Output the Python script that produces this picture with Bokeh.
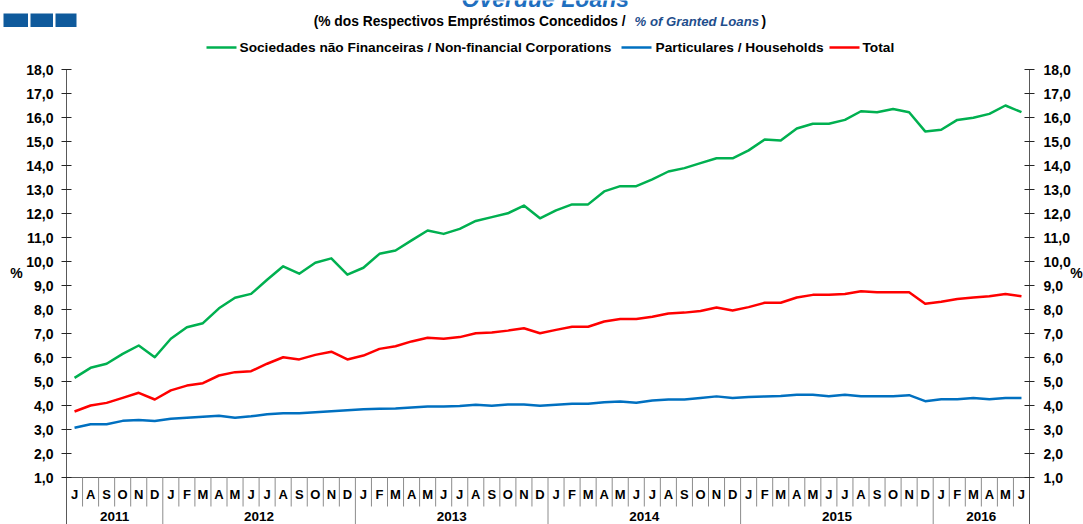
from bokeh.plotting import figure
from bokeh.models import Range1d, LinearAxis, FixedTicker, CustomJSTickFormatter
from bokeh.core.properties import value
from bokeh.embed import file_html
from bokeh.resources import INLINE

# ---------------- data ----------------
months = ["J", "A", "S", "O", "N", "D"] + \
         ["J", "F", "M", "A", "M", "J", "J", "A", "S", "O", "N", "D"] * 4 + \
         ["J", "F", "M", "A", "M", "J"]
years = ["2011", "2012", "2013", "2014", "2015", "2016"]
year_months = [6, 12, 12, 12, 12, 6]

corporations = [5.15, 5.57, 5.74, 6.15, 6.50, 6.01,
                6.78, 7.26, 7.43, 8.05, 8.49, 8.65, 9.24, 9.80, 9.49, 9.95, 10.13, 9.45,
                9.74, 10.32, 10.46, 10.88, 11.29, 11.15, 11.36, 11.69, 11.85, 12.01, 12.33, 11.80,
                12.13, 12.38, 12.38, 12.92, 13.14, 13.14, 13.42, 13.75, 13.89, 14.10, 14.30, 14.30,
                14.63, 15.08, 15.04, 15.54, 15.74, 15.74, 15.90, 16.26, 16.22, 16.35, 16.22, 15.42,
                15.49, 15.90, 15.99, 16.15, 16.50, 16.22]
households = [3.07, 3.22, 3.22, 3.36, 3.40, 3.35,
              3.45, 3.49, 3.53, 3.57, 3.49, 3.55, 3.64, 3.68, 3.68, 3.72, 3.76, 3.80,
              3.84, 3.86, 3.87, 3.92, 3.96, 3.96, 3.98, 4.03, 3.99, 4.04, 4.04, 3.99,
              4.03, 4.07, 4.07, 4.14, 4.17, 4.11, 4.21, 4.25, 4.25, 4.31, 4.38, 4.31,
              4.35, 4.38, 4.40, 4.45, 4.45, 4.39, 4.45, 4.39, 4.39, 4.39, 4.43, 4.18,
              4.26, 4.26, 4.31, 4.26, 4.31, 4.31]
total = [3.75, 4.00, 4.11, 4.32, 4.53, 4.25,
         4.63, 4.83, 4.93, 5.25, 5.39, 5.43, 5.74, 6.01, 5.92, 6.11, 6.24, 5.92,
         6.08, 6.36, 6.47, 6.67, 6.82, 6.78, 6.85, 7.01, 7.04, 7.12, 7.22, 7.01,
         7.15, 7.28, 7.28, 7.50, 7.60, 7.60, 7.70, 7.83, 7.87, 7.94, 8.08, 7.96,
         8.10, 8.28, 8.28, 8.50, 8.61, 8.61, 8.65, 8.76, 8.72, 8.72, 8.72, 8.24,
         8.32, 8.44, 8.50, 8.55, 8.65, 8.55]

series_names = ["Sociedades não Financeiras / Non-financial Corporations",
                "Particulares / Households", "Total"]
series_colors = ["#00B050", "#0070C0", "#FF0000"]
y_ticks = list(range(1, 19))

title_text = "Overdue  Loans"
subtitle_pt = "(% dos Respectivos  Empréstimos Concedidos /"
subtitle_en = "% of Granted Loans"
unit_text = "%"

# ---------------- layout helpers (page pixels -> data) ----------------
W, H = 1083, 524
X_LEFT, X_STEP = 66.0, 963.0 / 60.0
Y_18, Y_STEP = 69.0, 24.0


def dx(px):
    return (px - X_LEFT) / X_STEP - 0.5


def dy(py):
    return 18.0 - (py - Y_18) / Y_STEP


FONT = value("Liberation Sans")
n = len(months)
xs = list(range(n))

p = figure(width=W, height=H, output_backend="svg", toolbar_location=None,
           x_range=Range1d(dx(0), dx(W)), y_range=Range1d(dy(H), dy(0)),
           x_axis_type=None, y_axis_type=None,
           min_border_left=0, min_border_right=0, min_border_top=0, min_border_bottom=0)
p.outline_line_color = None
p.background_fill_color = "white"
p.border_fill_color = "white"
p.title.visible = False


def txt(x, y, t, size, style="bold", align="left", color="black", baseline="middle"):
    p.text(x=x, y=y, text=t, text_font=FONT, text_font_style=style,
           text_font_size=size, text_align=align, text_baseline=baseline,
           text_color=color)


# value axes (left and right), fixed at the edges of the chart area
fmt = CustomJSTickFormatter(code="return tick.toFixed(1).replace('.', ',');")
for side, loc, standoff in (("left", -0.5, 8), ("right", n - 0.5, 9)):
    ax = LinearAxis(ticker=FixedTicker(ticks=y_ticks), formatter=fmt,
                    bounds=(dy(H), 18), fixed_location=loc)
    ax.axis_line_color = "#595959"
    ax.major_tick_line_color = "#262626"
    ax.major_tick_in = 5
    ax.major_tick_out = 5
    ax.minor_tick_line_color = None
    ax.major_label_text_font = "Liberation Sans"
    ax.major_label_text_font_style = "bold"
    ax.major_label_text_font_size = "14px"
    ax.major_label_text_color = "black"
    ax.major_label_standoff = standoff
    p.add_layout(ax, side)

# category axis: base line, separators, labels
p.segment(x0=[-0.5], y0=[1], x1=[n - 0.5], y1=[1], line_color="#595959", line_width=1)
year_starts = []
acc = 0
for m in year_months[:-1]:
    acc += m
    year_starts.append(acc)
month_seps = [k - 0.5 for k in range(1, n) if k not in year_starts]
year_seps = [k - 0.5 for k in year_starts]
p.segment(x0=month_seps, y0=[1] * len(month_seps), x1=month_seps,
          y1=[dy(506)] * len(month_seps), line_color="#8c8c8c", line_width=1)
p.segment(x0=year_seps, y0=[1] * len(year_seps), x1=year_seps,
          y1=[dy(H)] * len(year_seps), line_color="#8c8c8c", line_width=1)
txt(xs, [dy(494)] * n, months, "13px", align="center")
year_centers = []
acc = 0
for m in year_months:
    year_centers.append(acc + (m - 1) / 2.0)
    acc += m
txt(year_centers, [dy(515.5)] * len(years), years, "13.5px", align="center")

# series
for vals, col in zip([corporations, households, total], series_colors):
    p.line(xs, vals, line_color=col, line_width=2.5, line_join="round")

# legend (one row)
leg_y = dy(47)
leg_line = [(206, 236), (621, 651), (829, 859)]
leg_text_x = [239, 655, 862]
for (a, b), tx, name, col in zip(leg_line, leg_text_x, series_names, series_colors):
    p.segment(x0=[dx(a)], y0=[leg_y], x1=[dx(b)], y1=[leg_y], line_color=col, line_width=2.5)
    txt([dx(tx)], [leg_y], [name], "13.7px")

# title (cut by the top edge, as in the original) and subtitle
txt([dx(548)], [dy(-2)], [title_text], "23px", style="bold italic", align="center",
    color="#1F6FBF", baseline="alphabetic")
sub_y = dy(20.5)
txt([dx(629)], [sub_y], [subtitle_pt], "13.8px", align="right")
txt([dx(634)], [sub_y], [subtitle_en], "13.2px", style="bold italic", color="#1F4E8C")
txt([dx(761)], [sub_y], [")"], "13.8px")

# unit labels on both sides
txt([dx(16), dx(1076)], [dy(272)] * 2, [unit_text] * 2, "14px", align="center")

# logo squares
lx0 = [3, 30, 55]
lx1 = [27.5, 52.5, 76]
p.quad(left=[dx(a) for a in lx0], right=[dx(b) for b in lx1],
       top=[dy(13)] * 3, bottom=[dy(26.5)] * 3, fill_color="#0F5A9C", line_color=None)

open("out.html", "w").write(file_html(p, INLINE))
